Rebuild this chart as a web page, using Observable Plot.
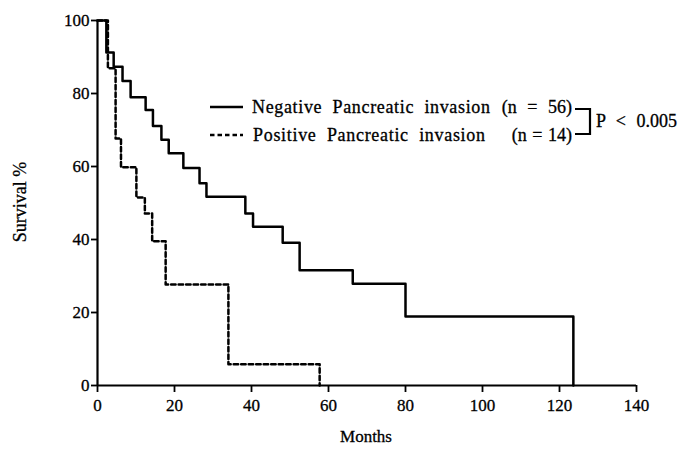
<!DOCTYPE html>
<html><head><meta charset="utf-8">
<script src="https://cdn.jsdelivr.net/npm/d3@7"></script>
<script src="https://cdn.jsdelivr.net/npm/@observablehq/plot@0.6"></script>
<style>body{margin:0;background:#fff} svg{display:block} svg text{stroke:#000;stroke-width:0.3px}</style>
</head><body><div id="chart"></div>
<script>
// Kaplan–Meier step values (survival % from that month onward)
const negMonths   = [0, 2.3, 4.2, 6.5, 8.6, 12.5, 14.4, 16.6, 18.5, 22.3, 26.5, 28.3, 38.4, 40.4, 48.1, 52.5, 66.3, 80.0, 123.6];
const negSurvival = [100, 91.2, 87.3, 83.4, 79.0, 75.5, 71.1, 67.3, 63.6, 59.6, 55.4, 51.7, 47.1, 43.5, 39.1, 31.6, 27.9, 18.9, 0];
const posMonths   = [0, 2.7, 4.7, 6.1, 10.1, 12.3, 14.2, 17.7, 34.0, 57.7];
const posSurvival = [100, 86.9, 67.7, 59.8, 51.5, 47.1, 39.5, 27.7, 5.8, 0];
const xTicks = [0, 20, 40, 60, 80, 100, 120, 140];
const yTicks = [0, 20, 40, 60, 80, 100];
const seriesNames = ["Negative  Pancreatic  invasion", "Positive  Pancreatic  invasion"];
const seriesN = ["(n = 56)", "(n = 14)"];
const pLabel = "P < 0.005";
const xLabel = "Months";
const yLabel = "Survival %";

const neg = negMonths.map((m, i) => ({month: m, survival: negSurvival[i]}));
const pos = posMonths.map((m, i) => ({month: m, survival: posSurvival[i]}));
const font = "'Liberation Serif', 'DejaVu Serif', serif";
const dash = "4.5,3";

const chart = Plot.plot({
  width: 682, height: 450,
  marginLeft: 97, marginRight: 46, marginTop: 20, marginBottom: 65,
  style: {fontFamily: font, fontSize: "17px", color: "#000", background: "#fff"},
  x: {domain: [0, 140]},
  y: {domain: [0, 100]},
  marks: [
    Plot.axisX({ticks: xTicks, tickSize: 7, tickPadding: 6, strokeWidth: 1.8, label: null, fontSize: 17}),
    Plot.axisY({ticks: yTicks, tickSize: 6, tickPadding: 2, strokeWidth: 1.8, label: null, fontSize: 17}),
    Plot.ruleY([0], {stroke: "#000", strokeWidth: 2.2}),
    Plot.ruleX([0], {stroke: "#000", strokeWidth: 2.2}),
    Plot.line(pos, {x: "month", y: "survival", curve: "step-after", stroke: "#000", strokeWidth: 2.5, strokeDasharray: dash}),
    Plot.line(neg, {x: "month", y: "survival", curve: "step-after", stroke: "#000", strokeWidth: 2.5})
  ]
});

const svg = d3.select(chart);
// axis titles
svg.append("text").attr("transform", "translate(20,202) rotate(-90)").attr("text-anchor", "middle")
  .attr("dy", "0.35em").attr("font-family", font).attr("font-size", 18).text(yLabel);
svg.append("text").attr("x", 366).attr("y", 436).attr("text-anchor", "middle")
  .attr("dy", "0.35em").attr("font-family", font).attr("font-size", 17).text(xLabel);

// legend annotation
const g = svg.append("g").attr("font-family", font).attr("font-size", 18).attr("fill", "#000")
  .attr("text-anchor", "start").style("white-space", "pre");
const rowY = [107, 135];
const dashes = [null, dash];
const nameStart = [252, 253], nameLen = [238, 232];
const nWordSpacing = [6, 1];
rowY.forEach((y, i) => {
  g.append("line").attr("x1", 210).attr("x2", 243).attr("y1", y).attr("y2", y)
    .attr("stroke", "#000").attr("stroke-width", 2.4).attr("stroke-dasharray", dashes[i]);
  g.append("text").attr("x", nameStart[i]).attr("y", y).attr("dy", "0.35em")
    .attr("textLength", nameLen[i]).attr("lengthAdjust", "spacing").text(seriesNames[i]);
  g.append("text").attr("x", 572).attr("y", y).attr("dy", "0.35em").attr("text-anchor", "end")
    .style("word-spacing", nWordSpacing[i] + "px").text(seriesN[i]);
});
g.append("path").attr("d", `M575,${rowY[0] + 2}H590V${rowY[1] - 1}H575`).attr("fill", "none")
  .attr("stroke", "#000").attr("stroke-width", 2.2);
g.append("text").attr("x", 596).attr("y", (rowY[0] + rowY[1]) / 2).attr("dy", "0.35em")
  .style("word-spacing", "6px").text(pLabel);

document.getElementById("chart").append(chart);
</script>
</body></html>
